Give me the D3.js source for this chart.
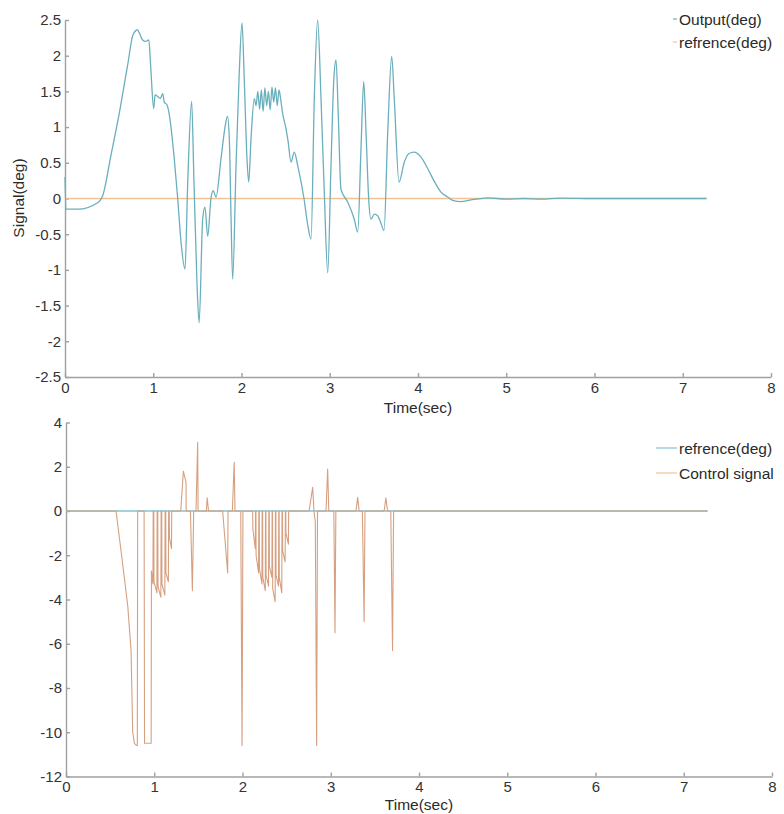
<!DOCTYPE html>
<html>
<head>
<meta charset="utf-8">
<script src="https://cdn.jsdelivr.net/npm/d3@7/dist/d3.min.js"></script>
<style>
  html, body { margin: 0; padding: 0; background: #fff; }
  svg { display: block; font-family: "Liberation Sans", Arial, Helvetica, sans-serif; }
  .axis path, .axis line { stroke: #a0a0a0; stroke-width: 1.4; }
  .axis text { fill: #333; font-size: 15px; }
  .title { fill: #2a2a2a; font-size: 15.5px; }
  .legend text { fill: #2a2a2a; font-size: 15.5px; }
</style>
</head>
<body>
<svg id="chart" width="784" height="814"></svg>
<script>
// ---- Upper panel: plant output vs. reference (degrees) ----
const outTime = [0, 0.01, 0.15, 0.37, 0.43, 0.52, 0.61, 0.71, 0.77, 0.82, 0.88, 0.91, 0.95, 0.97,
  1.005, 1.02, 1.05, 1.08, 1.107, 1.125, 1.156, 1.18, 1.235, 1.277, 1.314, 1.36, 1.39, 1.435, 1.46,
  1.496, 1.52, 1.56, 1.586, 1.617, 1.654, 1.68, 1.711, 1.768, 1.816, 1.841, 1.862, 1.881, 1.9,
  1.938, 1.975, 2.006, 2.032, 2.062, 2.082, 2.108, 2.145,
  2.165, 2.185, 2.205, 2.225, 2.245, 2.265, 2.285, 2.305, 2.325, 2.345, 2.365, 2.385, 2.405, 2.425, 2.445, 2.465,
  2.504, 2.527, 2.561, 2.598, 2.637, 2.708, 2.748, 2.788, 2.825, 2.863, 2.901, 2.938, 2.977,
  3.014, 3.045, 3.071, 3.097, 3.127, 3.203, 3.278, 3.317, 3.354, 3.385, 3.411, 3.441, 3.467,
  3.505, 3.543, 3.581, 3.615, 3.657, 3.702, 3.731, 3.785, 3.845, 3.898, 3.955, 4.034, 4.11,
  4.18, 4.26, 4.337, 4.40, 4.487, 4.60, 4.8, 5.0, 5.2, 5.4, 5.6, 6.0, 6.5, 7.27];
const outValue = [0.3, -0.15, -0.15, -0.06, 0.05, 0.6, 1.16, 1.87, 2.29, 2.36, 2.22, 2.2, 2.22, 1.87,
  1.26, 1.45, 1.43, 1.4, 1.47, 1.35, 1.31, 1.19, 0.6, 0, -0.6, -0.99, 0.2, 1.36, 0.3,
  -1.2, -1.74, -0.29, -0.12, -0.53, 0, 0.11, 0.02, 0.56, 1.02, 1.15, 0.84, -0.24, -1.13,
  0.46, 1.78, 2.46, 1.64, 0.56, 0.23, 0.84, 1.4,
  1.3, 1.5, 1.25, 1.52, 1.22, 1.55, 1.3, 1.5, 1.24, 1.56, 1.35, 1.55, 1.3, 1.52, 1.38, 1.2,
  0.98, 0.81, 0.51, 0.65, 0.46, 0, -0.35, -0.57, 1.4, 2.5, 1.4, 0.09, -1.04,
  0.46, 1.64, 1.94, 1.16, 0.13, -0.05, -0.29, -0.47, 0.7, 1.64, 0.93, 0, -0.29,
  -0.22, -0.24, -0.35, -0.45, 0.93, 1.99, 1.4, 0.23, 0.51, 0.63, 0.65, 0.58, 0.42,
  0.25, 0.09, 0.02, -0.03, -0.045, -0.02, 0.01, -0.01, 0, -0.01, 0.005, 0, 0, 0];

const refTime = [0, 7.27];
const refValue = [0, 0];

const topYTicks = [-2.5, -2, -1.5, -1, -0.5, 0, 0.5, 1, 1.5, 2, 2.5];
const xTicks = [0, 1, 2, 3, 4, 5, 6, 7, 8];

// ---- Lower panel: controller effort ----
const ctrlTime = [0, 0.567, 0.63, 0.70, 0.737, 0.756, 0.775, 0.80, 0.808, 0.812, 0.885, 0.89, 0.965,
  0.968, 0.985, 0.988, 0.995, 0.997, 1.03, 1.033, 1.04, 1.042, 1.075, 1.078, 1.085, 1.087, 1.12, 1.123,
  1.13, 1.132, 1.16, 1.163, 1.17, 1.172, 1.195, 1.198,
  1.30, 1.33, 1.36, 1.362, 1.41, 1.432, 1.447, 1.473, 1.492, 1.497, 1.59, 1.60, 1.615,
  1.775, 1.832, 1.836, 1.885, 1.906, 1.915, 1.98, 1.995, 2.005,
  2.115, 2.117, 2.145, 2.148, 2.152, 2.154, 2.182, 2.185, 2.19, 2.192, 2.22, 2.223,
  2.228, 2.230, 2.258, 2.261, 2.265, 2.267, 2.295, 2.298, 2.303, 2.305, 2.333, 2.336,
  2.34, 2.342, 2.37, 2.373, 2.378, 2.380, 2.408, 2.411, 2.415, 2.417, 2.445, 2.448,
  2.453, 2.455, 2.483, 2.486, 2.49, 2.492, 2.52, 2.523,
  2.755, 2.795, 2.81, 2.825, 2.84, 2.85, 2.86, 2.946, 2.965, 2.978, 3.035, 3.048, 3.058,
  3.286, 3.305, 3.322, 3.358, 3.378, 3.388, 3.605, 3.625, 3.643, 3.68, 3.70, 3.712, 7.27];
const ctrlValue = [0, 0, -2.0, -4.3, -6.3, -10.0, -10.5, -10.6, -10.6, 0, 0, -10.5, -10.5,
  -2.7, -3.3, 0, 0, -3.2, -3.7, 0, 0, -3.4, -3.9, 0, 0, -3.3, -3.8, 0,
  0, -2.8, -3.2, 0, 0, -1.2, -1.7, 0,
  0, 1.8, 1.3, 0, 0, -3.6, 0, 0, 3.1, 0, 0, 0.6, 0,
  0, -2.8, 0, 0, 2.2, 0, 0, -10.6, 0,
  0, -0.8, -1.7, 0, 0, -2.0, -2.8, 0, 0, -2.6, -3.3, 0,
  0, -3.0, -3.6, 0, 0, -2.9, -3.4, 0, 0, -2.5, -3.0, 0,
  0, -3.5, -4.1, 0, 0, -2.9, -3.4, 0, 0, -3.0, -3.7, 0,
  0, -1.8, -2.3, 0, 0, -1.0, -1.5, 0,
  0, 1.07, 0, -0.5, -10.6, 0, 0, 0, 1.9, 0, 0, -5.5, 0,
  0, 0.62, 0, 0, -5.0, 0, 0, 0.6, 0, 0, -6.3, 0, 0];

const botYTicks = [-12, -10, -8, -6, -4, -2, 0, 2, 4];

const topLegend = ["Output(deg)", "refrence(deg)"];
const botLegend = ["refrence(deg)", "Control signal"];

const colOutput = "#6aafbd";
const colRef = "#f1c393";
const colRefBottom = "#82c4d3";
const colCtrl = "#d6a080";

const svg = d3.select("#chart");
const fmt = d => String(d);

function zip(t, v) { return t.map((x, i) => [x, v[i]]); }

function panel(cfg) {
  const x = d3.scaleLinear().domain([0, 8]).range([cfg.left, cfg.right]);
  const y = d3.scaleLinear().domain(cfg.yDomain).range([cfg.bottom, cfg.top]);
  const g = svg.append("g");

  g.append("g").attr("class", "axis")
    .attr("transform", `translate(0,${cfg.bottom})`)
    .call(d3.axisBottom(x).tickValues(xTicks).tickFormat(fmt)
      .tickSizeInner(-4).tickSizeOuter(0).tickPadding(5));
  g.append("g").attr("class", "axis")
    .attr("transform", `translate(${cfg.left},0)`)
    .call(d3.axisLeft(y).tickValues(cfg.yTicks).tickFormat(fmt)
      .tickSizeInner(-4).tickSizeOuter(0).tickPadding(4));

  const line = d3.line().x(d => x(d[0])).y(d => y(d[1]));
  cfg.series.forEach(s => {
    g.append("path")
      .datum(zip(s.t, s.v))
      .attr("fill", "none")
      .attr("stroke", s.color)
      .attr("stroke-width", s.width)
      .attr("stroke-linejoin", "round")
      .attr("d", line.curve(s.curve || d3.curveLinear));
  });

  g.append("text").attr("class", "title")
    .attr("x", (cfg.left + cfg.right) / 2).attr("y", cfg.bottom + cfg.titleGap)
    .attr("text-anchor", "middle").text("Time(sec)");

  const lg = g.append("g").attr("class", "legend");
  cfg.legend.forEach((name, i) => {
    const yy = cfg.legendY + i * cfg.legendGap;
    lg.append("line")
      .attr("x1", cfg.legendX1).attr("x2", cfg.legendX2)
      .attr("y1", yy).attr("y2", yy)
      .attr("stroke", cfg.legendColors[i]).attr("stroke-width", 1.2);
    lg.append("text").attr("x", cfg.legendX2 + 2).attr("y", yy + 5.5).text(name);
  });
  return g;
}

panel({
  left: 65, right: 771, top: 20, bottom: 377, titleGap: 36,
  yDomain: [-2.5, 2.5], yTicks: topYTicks,
  series: [
    { t: refTime, v: refValue, color: colRef, width: 1.3 },
    { t: outTime, v: outValue, color: colOutput, width: 1.3, curve: d3.curveMonotoneX }
  ],
  legend: topLegend, legendColors: [colOutput, colRef],
  legendX1: 673, legendX2: 677, legendY: 19, legendGap: 23
});

svg.append("text").attr("class", "title")
  .attr("transform", "translate(24,198) rotate(-90)")
  .attr("text-anchor", "middle").text("Signal(deg)");

panel({
  left: 66, right: 772, top: 422.5, bottom: 776.5, titleGap: 33,
  yDomain: [-12, 4], yTicks: botYTicks,
  series: [
    { t: refTime, v: refValue, color: colRefBottom, width: 1.3 },
    { t: ctrlTime, v: ctrlValue, color: colCtrl, width: 1.1 }
  ],
  legend: botLegend, legendColors: [colRefBottom, colRef],
  legendX1: 656, legendX2: 677, legendY: 448, legendGap: 25
});
</script>
</body>
</html>
